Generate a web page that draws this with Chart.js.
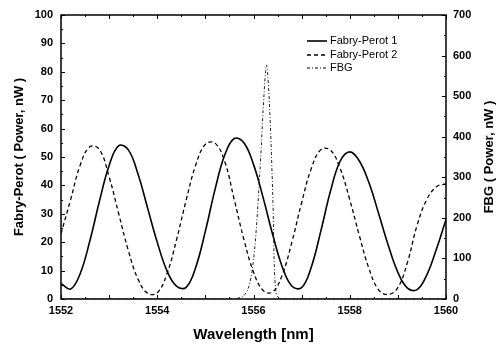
<!DOCTYPE html>
<html><head><meta charset="utf-8">
<script src="https://cdn.jsdelivr.net/npm/chart.js@4/dist/chart.umd.min.js"></script>
<style>html,body{margin:0;padding:0;background:#fff}#wrap{width:501px;height:347px}</style>
</head><body><div id="wrap"><canvas id="c" width="501" height="347"></canvas></div>
<script>
const wavelength = [1552.0,1552.2,1552.4,1552.6,1552.8,1553.0,1553.2,1553.4,1553.6,1553.8,
  1554.0,1554.2,1554.4,1554.6,1554.8,1555.0,1555.2,1555.4,1555.6,1555.8,
  1556.0,1556.2,1556.4,1556.6,1556.8,1557.0,1557.2,1557.4,1557.6,1557.8,
  1558.0,1558.2,1558.4,1558.6,1558.8,1559.0,1559.2,1559.4,1559.6,1559.8,1560.0];
const fabryPerot1 = [5.5,3.5,9.0,20.5,34.5,47.0,54.0,52.5,44.0,32.0,
  20.0,10.0,4.5,4.1,11.2,23.9,38.5,50.6,56.5,55.0,
  47.4,35.7,22.6,11.2,4.5,4.0,11.2,24.0,38.0,48.5,
  51.8,48.6,40.9,30.1,18.9,9.4,3.8,3.3,8.4,17.5,28.0];
const fabryPerot2 = [23.0,35.0,47.2,53.6,52.6,43.0,30.0,17.0,7.0,2.0,
  2.2,8.8,20.8,34.8,47.2,54.5,54.9,48.5,35.0,21.0,
  9.5,3.0,2.5,8.6,20.2,33.9,45.9,52.6,52.4,46.0,
  35.0,22.3,10.7,3.2,1.6,4.0,13.0,26.0,35.0,39.5,40.5];
const fbgWavelength = [1552.0,1555.5,1555.6,1555.7,1555.8,1555.9,1555.95,1556.0,1556.05,1556.1,1556.15,1556.2,
  1556.25,1556.27,1556.3,1556.35,1556.38,1556.41,1556.43,1556.46,1556.5,1556.6,1556.7,1560.0];
const fbgPower = [0,0,0,3,8,30,55,95,160,250,350,465,
  560,577,545,430,330,210,90,25,6,1,0,0];
const fpTicks = [0,10,20,30,40,50,60,70,80,90,100];
const fbgTicks = [0,100,200,300,400,500,600,700];
const wlTicks = [1552,1554,1556,1558,1560];
const legendLabels = ['Fabry-Perot 1','Fabry-Perot 2','FBG'];
const rightTitle = 'FBG ( Power, nW )';

const FONT = '"Liberation Sans", Arial, sans-serif';
const pts = (xs, ys) => xs.map((x, i) => ({x, y: ys[i]}));

const decor = {
  id: 'decor',
  afterDatasetsDraw(chart) {
    const {ctx, chartArea: a, scales} = chart;
    ctx.save();
    ctx.strokeStyle = '#000';
    ctx.lineWidth = 1.5;
    ctx.setLineDash([]);
    ctx.strokeRect(a.left, a.top, a.right - a.left, a.bottom - a.top);
    ctx.lineWidth = 1;
    for (let v = 1552; v <= 1560.001; v += 0.5) {
      const px = Math.round(scales.x.getPixelForValue(v)) + 0.5;
      const len = (Math.abs(v - Math.round(v)) < 1e-6) ? 4 : 2;
      ctx.beginPath();
      ctx.moveTo(px, a.bottom); ctx.lineTo(px, a.bottom - len);
      ctx.moveTo(px, a.top); ctx.lineTo(px, a.top + len);
      ctx.stroke();
    }
    for (let v = 0; v <= 100; v += 5) {
      const py = Math.round(scales.y.getPixelForValue(v)) + 0.5;
      const len = v % 10 === 0 ? 4 : 2;
      ctx.beginPath(); ctx.moveTo(a.left, py); ctx.lineTo(a.left + len, py); ctx.stroke();
    }
    for (let v = 0; v <= 700; v += 50) {
      const py = Math.round(scales.y2.getPixelForValue(v)) + 0.5;
      const len = v % 100 === 0 ? 4 : 2;
      ctx.beginPath(); ctx.moveTo(a.right, py); ctx.lineTo(a.right - len, py); ctx.stroke();
    }
    // legend
    const rows = [41, 55, 68];
    ctx.font = '11px ' + FONT;
    ctx.fillStyle = '#000';
    ctx.textBaseline = 'middle';
    chart.data.datasets.forEach((ds, i) => {
      ctx.beginPath();
      ctx.lineWidth = ds.borderWidth;
      ctx.setLineDash(ds.borderDash || []);
      ctx.moveTo(307, rows[i]); ctx.lineTo(327, rows[i]);
      ctx.stroke();
      ctx.fillText(legendLabels[i], 330, rows[i]);
    });
    // right axis title, reading bottom-to-top
    ctx.setLineDash([]);
    ctx.translate(489, (a.top + a.bottom) / 2);
    ctx.rotate(-Math.PI / 2);
    ctx.font = 'bold 13px ' + FONT;
    ctx.textAlign = 'center';
    ctx.fillText(rightTitle, 0, 0);
    ctx.restore();
  }
};

new Chart(document.getElementById('c'), {
  type: 'line',
  data: {
    datasets: [
      {label: legendLabels[0], data: pts(wavelength, fabryPerot1), yAxisID: 'y', borderColor: '#000', borderWidth: 1.6, pointRadius: 0, tension: 0.4, fill: false},
      {label: legendLabels[1], data: pts(wavelength, fabryPerot2), yAxisID: 'y', borderColor: '#000', borderWidth: 1.3, borderDash: [4, 3], pointRadius: 0, tension: 0.4, fill: false},
      {label: legendLabels[2], data: pts(fbgWavelength, fbgPower), yAxisID: 'y2', borderColor: '#222', borderWidth: 1, borderDash: [3, 2, 1, 2], pointRadius: 0, cubicInterpolationMode: 'monotone', fill: false}
    ]
  },
  options: {
    responsive: false,
    animation: false,
    devicePixelRatio: 1,
    layout: {padding: {top: 15, left: 0, right: 0, bottom: 0}},
    plugins: {legend: {display: false}, tooltip: {enabled: false}},
    scales: {
      x: {
        type: 'linear', min: 1552, max: 1560,
        afterBuildTicks: s => { s.ticks = wlTicks.map(v => ({value: v})); },
        afterFit: s => { s.height = 48; },
        grid: {display: false, drawTicks: false},
        border: {display: false},
        ticks: {padding: 5, color: '#000', font: {family: FONT, size: 11, weight: 'bold'}, callback: v => String(v)},
        title: {display: true, text: 'Wavelength [nm]', color: '#000', padding: {bottom: 3}, font: {family: FONT, size: 15, weight: 'bold'}}
      },
      y: {
        type: 'linear', position: 'left', min: 0, max: 100,
        afterBuildTicks: s => { s.ticks = fpTicks.map(v => ({value: v})); },
        afterFit: s => { s.width = 61; },
        grid: {display: false, drawTicks: false},
        border: {display: false},
        ticks: {padding: 8, color: '#000', font: {family: FONT, size: 11, weight: 'bold'}},
        title: {display: true, text: 'Fabry-Perot ( Power, nW )', color: '#000', padding: {top: 12}, font: {family: FONT, size: 13, weight: 'bold'}}
      },
      y2: {
        type: 'linear', position: 'right', min: 0, max: 700,
        afterBuildTicks: s => { s.ticks = fbgTicks.map(v => ({value: v})); },
        afterFit: s => { s.width = 55; },
        grid: {display: false, drawTicks: false},
        border: {display: false},
        ticks: {padding: 7, color: '#000', font: {family: FONT, size: 11, weight: 'bold'}},
        title: {display: false}
      }
    }
  },
  plugins: [decor]
});
</script>
</body></html>
